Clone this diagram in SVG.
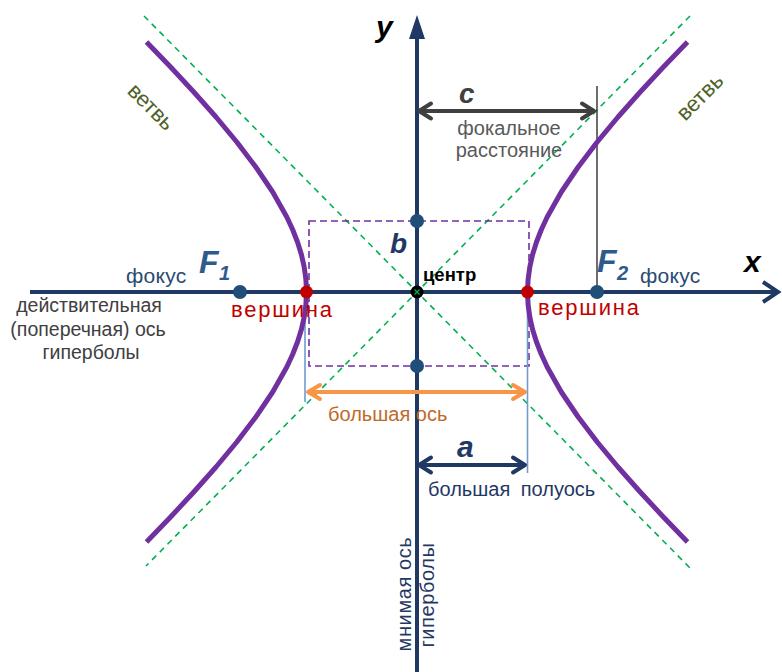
<svg xmlns="http://www.w3.org/2000/svg" width="782" height="672" viewBox="0 0 782 672">
<style>
text{font-family:"Liberation Sans",Arial,sans-serif;}
.bi{font-weight:bold;font-style:italic;}
.asym{stroke:#00B050;stroke-width:1.6;stroke-dasharray:6 5;fill:none;}
.rect{stroke:#7030A0;stroke-width:1.6;stroke-dasharray:7 4;fill:none;}
.hyp{stroke:#7030A0;stroke-width:5;fill:none;stroke-linejoin:round;stroke-linecap:butt;}
.axis{stroke:#1F3864;stroke-width:4;fill:none;}
.guide{stroke:#6F9BD1;stroke-width:1.6;fill:none;}
.dot{fill:#1F4E79;}
.vert{fill:#C00000;}
.red{fill:#C00000;font-size:22px;letter-spacing:1.8px;}
.foc{fill:#2B4A72;font-size:21px;letter-spacing:0.3px;}
.F{fill:#2E5A8C;}
.grey{fill:#404040;font-size:19.5px;}
.branch{fill:#4F6228;font-size:22px;}
.navy{fill:#1F3864;}
</style>
<defs>
<marker id="chevAxis" viewBox="-20 -15 25 30" refX="0" refY="0" markerWidth="25" markerHeight="30" markerUnits="userSpaceOnUse" orient="auto-start-reverse"><path d="M-15,-10 L0,0 L-15,10" stroke="#1F3864" stroke-width="4" fill="none" stroke-linejoin="miter"/></marker>
<marker id="chevGrey" viewBox="-20 -15 25 30" refX="0" refY="0" markerWidth="25" markerHeight="30" markerUnits="userSpaceOnUse" orient="auto-start-reverse"><path d="M-12,-7.5 L0,0 L-12,7.5" stroke="#404040" stroke-width="4" fill="none" stroke-linecap="round" stroke-linejoin="round"/></marker>
<marker id="chevNavy" viewBox="-20 -15 25 30" refX="0" refY="0" markerWidth="25" markerHeight="30" markerUnits="userSpaceOnUse" orient="auto-start-reverse"><path d="M-12,-7.5 L0,0 L-12,7.5" stroke="#1F3864" stroke-width="4" fill="none" stroke-linecap="round" stroke-linejoin="round"/></marker>
<marker id="chevOrange" viewBox="-20 -15 25 30" refX="0" refY="0" markerWidth="25" markerHeight="30" markerUnits="userSpaceOnUse" orient="auto-start-reverse"><path d="M-12,-7 L0,0 L-12,7" stroke="#F79646" stroke-width="4" fill="none" stroke-linecap="round" stroke-linejoin="round"/></marker>
</defs>
<rect width="782" height="672" fill="#FFFFFF"/>

<g id="asymptotes">
<line class="asym" x1="144" y1="16" x2="692" y2="570"/>
<line class="asym" x1="690" y1="16" x2="146" y2="566"/>
</g>
<g id="box">
<rect class="rect" x="309" y="221" width="220" height="145"/>
</g>

<g id="connectors">
<line class="axis" x1="30" y1="292" x2="778" y2="292" marker-end="url(#chevAxis)"/>
<line class="axis" x1="417" y1="672" x2="417" y2="36"/>
<polygon points="417,15 409,39 425,39" fill="#1F3864"/>
<line x1="597" y1="86" x2="597" y2="292" stroke="#202020" stroke-width="1.3"/>
<line class="guide" x1="305" y1="292" x2="305" y2="402"/>
<line class="guide" x1="527.5" y1="292" x2="527.5" y2="473"/>
<line x1="419" y1="111" x2="594" y2="111" stroke="#404040" stroke-width="4" marker-start="url(#chevGrey)" marker-end="url(#chevGrey)"/>
<line x1="308" y1="392" x2="525" y2="392" stroke="#F79646" stroke-width="4" marker-start="url(#chevOrange)" marker-end="url(#chevOrange)"/>
<line x1="419" y1="465" x2="525" y2="465" stroke="#1F3864" stroke-width="4" marker-start="url(#chevNavy)" marker-end="url(#chevNavy)"/>
</g>

<g id="hyperbola">
<path class="hyp" d="M687.5,42 L663.4,67 L640.2,92 L618.0,117 L597.2,142 L578.2,167 L561.3,192 L547.2,217 L541.4,229.5 L536.5,242 L532.6,254.5 L529.8,267 L528.1,279.5 L527.5,292 L528.1,304.5 L529.8,317 L532.6,329.5 L536.5,342 L541.4,354.5 L547.2,367 L561.3,392 L578.2,417 L597.2,442 L618.0,467 L640.2,492 L663.4,517 L687.5,542"/>
<path class="hyp" d="M146.5,42 L170.6,67 L193.8,92 L216.0,117 L236.8,142 L255.8,167 L272.7,192 L286.8,217 L292.6,229.5 L297.5,242 L301.4,254.5 L304.2,267 L305.9,279.5 L306.5,292 L305.9,304.5 L304.2,317 L301.4,329.5 L297.5,342 L292.6,354.5 L286.8,367 L272.7,392 L255.8,417 L236.8,442 L216.0,467 L193.8,492 L170.6,517 L146.5,542"/>
</g>

<g id="focus1"><circle class="dot" cx="240" cy="292" r="7"/>
<text class="bi F" x="199" y="273" font-size="32">F</text><text class="F" x="219" y="280" font-size="20" font-style="italic" font-weight="bold">1</text>
<text class="foc" x="126" y="283">фокус</text></g>
<g id="focus2"><circle class="dot" cx="597" cy="292" r="7"/>
<text class="bi F" x="597" y="272" font-size="32">F</text><text class="F" x="617" y="280" font-size="20" font-style="italic" font-weight="bold">2</text>
<text class="foc" x="640" y="283">фокус</text></g>
<g id="vertex1"><circle class="vert" cx="306.5" cy="292" r="6.5"/><text class="red" x="231" y="317">вершина</text></g>
<g id="vertex2"><circle class="vert" cx="527.5" cy="292" r="6.5"/><text class="red" x="538" y="315">вершина</text></g>
<g id="bpoints"><circle class="dot" cx="417" cy="221" r="7"/><circle class="dot" cx="417" cy="366" r="7"/>
<text class="bi navy" x="390" y="253" font-size="28">b</text></g>
<g id="center"><circle cx="417" cy="292" r="6.5" fill="#000"/>
<path d="M414.5,289.5 L419.5,294.5 M419.5,289.5 L414.5,294.5" stroke="#00B050" stroke-width="1.3"/>
<text x="423" y="281" font-size="18.5" font-weight="bold" fill="#000">центр</text></g>

<g id="axis-labels">
<text class="bi" x="376" y="37" font-size="30" fill="#000">y</text>
<text class="bi" x="744" y="272" font-size="30" fill="#000">x</text>
</g>
<g id="focal">
<text class="bi" x="459" y="103" font-size="28" fill="#404040">c</text>
<text x="509" y="135" font-size="20" fill="#595959" text-anchor="middle">фокальное</text>
<text x="509" y="157" font-size="20" fill="#595959" text-anchor="middle">расстояние</text>
</g>
<g id="real-axis-label">
<text class="grey" x="89" y="312" text-anchor="middle">действительная</text>
<text class="grey" x="88" y="336" text-anchor="middle">(поперечная) ось</text>
<text class="grey" x="91" y="359" text-anchor="middle">гиперболы</text>
</g>
<g id="major-axis"><text x="328" y="421" font-size="20" fill="#C0692A">большая ось</text></g>
<g id="semi-axis">
<text class="bi navy" x="457" y="457" font-size="30">a</text>
<text class="navy" x="428" y="496" font-size="20" word-spacing="5">большая полуось</text>
</g>
<g id="imaginary-axis">
<text class="navy" font-size="20" letter-spacing="0.6" text-anchor="middle" transform="translate(411,594) rotate(-90)">мнимая ось</text>
<text class="navy" font-size="20" letter-spacing="0.6" text-anchor="middle" transform="translate(434,595) rotate(-90)">гиперболы</text>
</g>
<g id="branch-left"><text class="branch" text-anchor="middle" transform="translate(146,112) rotate(45)">ветвь</text></g>
<g id="branch-right"><text class="branch" text-anchor="middle" transform="translate(705,102) rotate(-45)">ветвь</text></g>
</svg>
